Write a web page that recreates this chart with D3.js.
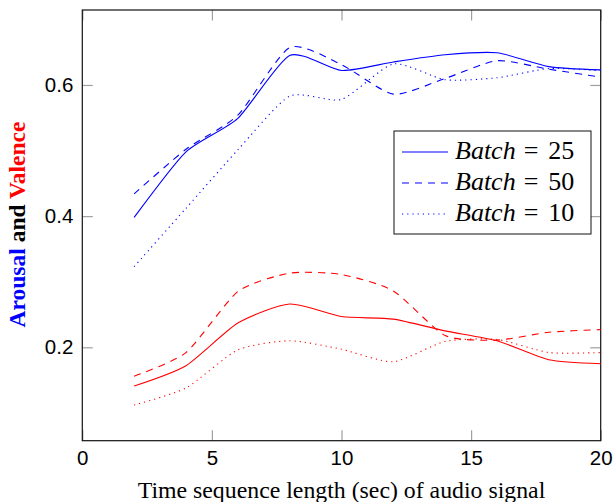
<!DOCTYPE html>
<html>
<head>
<meta charset="utf-8">
<script src="https://cdn.jsdelivr.net/npm/d3@7"></script>
<style>
  body { margin: 0; background: #fff; }
  svg { display: block; }
</style>
</head>
<body>
<div class="content-container"></div>
<script>
    // sequence lengths (sec)
    const seqLength = [2, 4, 6, 8, 10, 12, 14, 16, 18, 20];

    // arousal (blue)
    const arousalBatch25 = [0.398, 0.498, 0.549, 0.645, 0.622, 0.635, 0.646, 0.649, 0.628, 0.623];
    const arousalBatch50 = [0.434, 0.502, 0.554, 0.657, 0.631, 0.586, 0.610, 0.637, 0.624, 0.612];
    const arousalBatch10 = [0.323, 0.412, 0.501, 0.583, 0.578, 0.632, 0.608, 0.611, 0.625, 0.622];

    // valence (red)
    const valenceBatch25 = [0.141, 0.172, 0.237, 0.266, 0.247, 0.243, 0.225, 0.210, 0.181, 0.175];
    const valenceBatch50 = [0.156, 0.192, 0.285, 0.313, 0.311, 0.286, 0.218, 0.211, 0.223, 0.227];
    const valenceBatch10 = [0.112, 0.138, 0.196, 0.210, 0.197, 0.178, 0.209, 0.212, 0.192, 0.192];

    const xTicks = [0, 5, 10, 15, 20];
    const yTicks = [0.2, 0.4, 0.6];
    const legendLabels = ["25", "50", "10"];

    const width = 615;
    const height = 502;
    const margin = {top: 10, right: 14.3, bottom: 61.3, left: 82.3};

    const blue = "#0000ff";
    const red = "#ff0000";
    const styles = {
      solid: null,
      dashed: "7,6",
      dotted: "1.2,4"
    };

    //SCALES

    const xScale = d3.scaleLinear()
                     .domain([0, 20])
                     .range([margin.left, width - margin.right]);

    const yScale = d3.scaleLinear()
                     .domain([0.0576, 0.7143])
                     .range([height - margin.bottom, margin.top]);

    const chart = d3.select(".content-container")
                  .append("svg")
                  .attr("width", width)
                  .attr("height", height);

    //AXES (ticks point inward, mirrored on top and right)

    const tickLen = 10.5;

    chart.append("g")
      .attr("transform", "translate(0," + (height - margin.bottom) + ")")
      .call(d3.axisBottom(xScale).tickValues(xTicks).tickSize(-tickLen).tickPadding(10).tickFormat(d3.format("d")));

    chart.append("g")
      .attr("transform", "translate(0," + margin.top + ")")
      .call(d3.axisTop(xScale).tickValues(xTicks).tickSize(-tickLen).tickFormat(""));

    chart.append("g")
      .attr("transform", "translate(" + margin.left + ",0)")
      .call(d3.axisLeft(yScale).tickValues(yTicks).tickSize(-tickLen).tickPadding(9).tickFormat(d3.format(".1f")));

    chart.append("g")
      .attr("transform", "translate(" + (width - margin.right) + ",0)")
      .call(d3.axisRight(yScale).tickValues(yTicks).tickSize(-tickLen).tickFormat(""));

    chart.selectAll(".domain").remove();
    chart.selectAll(".tick line")
      .attr("stroke", "#a0a0a0")
      .attr("stroke-width", 1.2);
    chart.selectAll(".tick text")
      .attr("fill", "#000")
      .style("font-family", "'Liberation Sans', Arial, sans-serif")
      .style("font-size", "20.5px");

    // frame
    chart.append("rect")
      .attr("x", margin.left)
      .attr("y", margin.top)
      .attr("width", width - margin.left - margin.right)
      .attr("height", height - margin.top - margin.bottom)
      .attr("fill", "none")
      .attr("stroke", "#111")
      .attr("stroke-width", 1.2);

    //LINES

    const line = d3.line()
      .x((d, i) => xScale(seqLength[i]))
      .y((d) => yScale(d))
      .curve(d3.curveCardinal.tension(0.35));

    const series = [
      {values: arousalBatch25, color: blue, dash: styles.solid},
      {values: arousalBatch50, color: blue, dash: styles.dashed},
      {values: arousalBatch10, color: blue, dash: styles.dotted},
      {values: valenceBatch25, color: red, dash: styles.solid},
      {values: valenceBatch50, color: red, dash: styles.dashed},
      {values: valenceBatch10, color: red, dash: styles.dotted}
    ];

    chart.selectAll(".series")
      .data(series)
      .enter()
      .append("path")
      .attr("class", "series")
      .attr("d", (d) => line(d.values))
      .attr("fill", "none")
      .attr("stroke", (d) => d.color)
      .attr("stroke-width", 1.1)
      .attr("stroke-dasharray", (d) => d.dash);

    //AXIS TITLES

    chart.append("text")
      .attr("x", xScale(10))
      .attr("y", 498)
      .attr("text-anchor", "middle")
      .style("font-family", "'Liberation Serif', 'Times New Roman', serif")
      .style("font-size", "23.8px")
      .text("Time sequence length (sec) of audio signal");

    const yTitle = chart.append("text")
      .attr("transform", "translate(25," + 224.5 + ") rotate(-90)")
      .attr("text-anchor", "middle")
      .style("font-family", "'Liberation Serif', 'Times New Roman', serif")
      .style("font-size", "23.5px")
      .style("font-weight", "bold");
    yTitle.append("tspan").attr("fill", blue).text("Arousal");
    yTitle.append("tspan").attr("fill", "#000").text(" and ");
    yTitle.append("tspan").attr("fill", red).text("Valence");

    //LEGEND

    const legendX = 394;
    const legendY = 131;

    chart.append("rect")
      .attr("x", legendX)
      .attr("y", legendY)
      .attr("width", 197)
      .attr("height", 103)
      .attr("fill", "#fff")
      .attr("stroke", "#111")
      .attr("stroke-width", 1);

    const legend = chart.selectAll(".legend")
      .data(legendLabels)
      .enter()
      .append("g")
      .attr("class", "legend")
      .attr("transform", (d, i) => "translate(0," + (legendY + 21 + i * 31) + ")");

    legend.append("line")
      .attr("x1", legendX + 8)
      .attr("x2", legendX + 54)
      .attr("stroke", blue)
      .attr("stroke-width", 1.1)
      .attr("stroke-dasharray", (d, i) => [styles.solid, styles.dashed, styles.dotted][i]);

    const legendText = legend.append("text")
      .attr("x", legendX + 61)
      .attr("y", 7)
      .style("font-family", "'Liberation Serif', 'Times New Roman', serif")
      .style("font-size", "26px");
    legendText.append("tspan").style("font-style", "italic").text("Batch");
    legendText.append("tspan").attr("dx", 8).text("=");
    legendText.append("tspan").attr("dx", 10).text((d) => d);
</script>
</body>
</html>
